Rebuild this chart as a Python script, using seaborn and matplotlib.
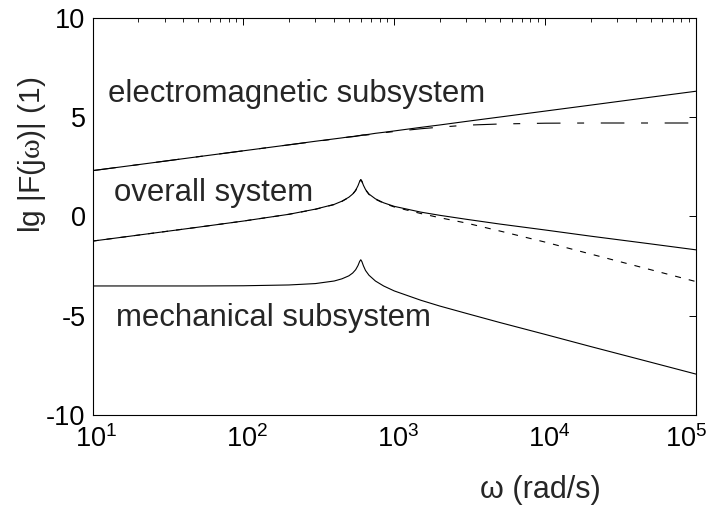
import matplotlib
matplotlib.use("Agg")
import matplotlib.pyplot as plt
import matplotlib.ticker as mticker
import matplotlib.transforms as mtrans
import seaborn as sns
import pandas as pd

# ---- data ----
omega = [10, 20, 50, 100, 200, 300, 400, 450, 500, 530, 555, 575, 590, 600, 610,
         625, 645, 680, 750, 850, 1000, 1500, 2000, 3000, 5000, 10000, 20000,
         50000, 100000]
em_full = [2.31, 2.61, 3.01, 3.31, 3.61, 3.79, 3.91, 3.96, 4.01, 4.03, 4.05, 4.07,
           4.08, 4.09, 4.10, 4.11, 4.12, 4.14, 4.19, 4.24, 4.31, 4.49, 4.61, 4.79,
           5.01, 5.31, 5.61, 6.01, 6.31]
em_approx = [2.31, 2.61, 3.01, 3.31, 3.61, 3.78, 3.90, 3.95, 4.00, 4.02, 4.04, 4.06,
             4.07, 4.08, 4.09, 4.10, 4.10, 4.12, 4.17, 4.22, 4.28, 4.42, 4.50, 4.60,
             4.66, 4.70, 4.71, 4.71, 4.71]
overall_full = [-1.24, -0.94, -0.54, -0.23, 0.11, 0.37, 0.61, 0.77, 0.97, 1.13, 1.32,
                1.55, 1.77, 1.86, 1.78, 1.57, 1.36, 1.13, 0.89, 0.69, 0.51, 0.22,
                0.06, -0.14, -0.38, -0.68, -0.99, -1.38, -1.68]
overall_approx = [-1.24, -0.94, -0.54, -0.23, 0.11, 0.36, 0.60, 0.76, 0.96, 1.12,
                  1.31, 1.54, 1.76, 1.85, 1.77, 1.56, 1.34, 1.11, 0.87, 0.67, 0.48,
                  0.15, -0.06, -0.33, -0.73, -1.29, -1.89, -2.68, -3.28]
mechanical = [-3.50, -3.50, -3.50, -3.49, -3.45, -3.38, -3.25, -3.14, -2.99, -2.85,
              -2.68, -2.47, -2.26, -2.18, -2.27, -2.49, -2.72, -2.96, -3.25, -3.50,
              -3.75, -4.22, -4.51, -4.88, -5.34, -5.94, -6.55, -7.34, -7.94]

label_em = "electromagnetic subsystem"
label_overall = "overall system"
label_mech = "mechanical subsystem"
x_label = "\u03c9 (rad/s)"
y_label = r"lg |F(j$\mathsf{\omega}$)| (1)"
y_ticks = [-10, -5, 0, 5, 10]
x_ticks = [1e1, 1e2, 1e3, 1e4, 1e5]
x_ticklabels = [r"$\mathdefault{10^{1}}$", r"$\mathdefault{10^{2}}$",
                r"$\mathdefault{10^{3}}$", r"$\mathdefault{10^{4}}$",
                r"$\mathdefault{10^{5}}$"]

# ---- style ----
sns.set_style("white")
plt.rcParams["font.family"] = ["Liberation Sans", "DejaVu Sans"]
plt.rcParams["mathtext.fontset"] = "custom"
plt.rcParams["mathtext.rm"] = "Liberation Sans"
plt.rcParams["mathtext.it"] = "Liberation Sans:italic"
plt.rcParams["mathtext.sf"] = "Liberation Serif"
plt.rcParams["axes.unicode_minus"] = False
plt.rcParams["lines.scale_dashes"] = False

fig = plt.figure(figsize=(7.08, 5.07), dpi=100)
ax = fig.add_axes([0.1307, 0.1815, 0.8523, 0.783])

series = [
    (mechanical, None),
    (overall_full, None),
    (overall_approx, (4.3, 5.8)),
    (em_full, None),
    (em_approx, (17, 12, 5, 12)),
]
for vals, dash in series:
    df = pd.DataFrame({"omega": omega, "value": vals})
    kw = {}
    if dash is not None:
        kw["dashes"] = dash
    sns.lineplot(data=df, x="omega", y="value", color="black", linewidth=0.8,
                 estimator=None, ax=ax, **kw)

ax.set_xscale("log")
ax.set_xlim(10, 1e5)
ax.set_ylim(-10, 10)
ax.set_yticks(y_ticks)
ax.set_xticks(x_ticks)
ax.set_xticklabels(x_ticklabels)
ax.xaxis.set_minor_locator(mticker.LogLocator(base=10, subs=range(2, 10), numticks=20))
ax.xaxis.set_minor_formatter(mticker.NullFormatter())

ax.tick_params(which="both", direction="in", top=True, right=True,
               colors="black", labelsize=19.5)
ax.tick_params(which="major", length=4.8, width=0.7)
ax.tick_params(axis="x", which="major", pad=7)
ax.tick_params(axis="y", which="major", pad=5)
ax.tick_params(which="minor", length=3, width=0.6)
for s in ax.spines.values():
    s.set_color("black")
    s.set_linewidth(0.8)

ax.set_xlabel(x_label, fontsize=22)
ax.set_ylabel(y_label, fontsize=21.5)
ax.xaxis.set_label_coords(0.742, -0.150)
ax.yaxis.set_label_coords(-0.074, 0.655)

ax.text(12.7, 5.79, label_em, fontsize=22.4, va="baseline", ha="left")
ax.text(13.9, 0.76, label_overall, fontsize=22.4, va="baseline", ha="left")
ax.text(14.3, -5.54, label_mech, fontsize=22.4, va="baseline", ha="left")

# MATLAB-like placement: base "10" centred on the tick; last label kept inside
ticks = ax.xaxis.get_major_ticks()
for i, t in enumerate(ticks):
    lab = t.label1
    if i == len(ticks) - 1:
        lab.set_horizontalalignment("right")
        off = mtrans.ScaledTranslation(11 / 100, 0, fig.dpi_scale_trans)
    else:
        off = mtrans.ScaledTranslation(4 / 100, 0, fig.dpi_scale_trans)
    lab.set_transform(lab.get_transform() + off)

fig.savefig("out.png", dpi=100)
